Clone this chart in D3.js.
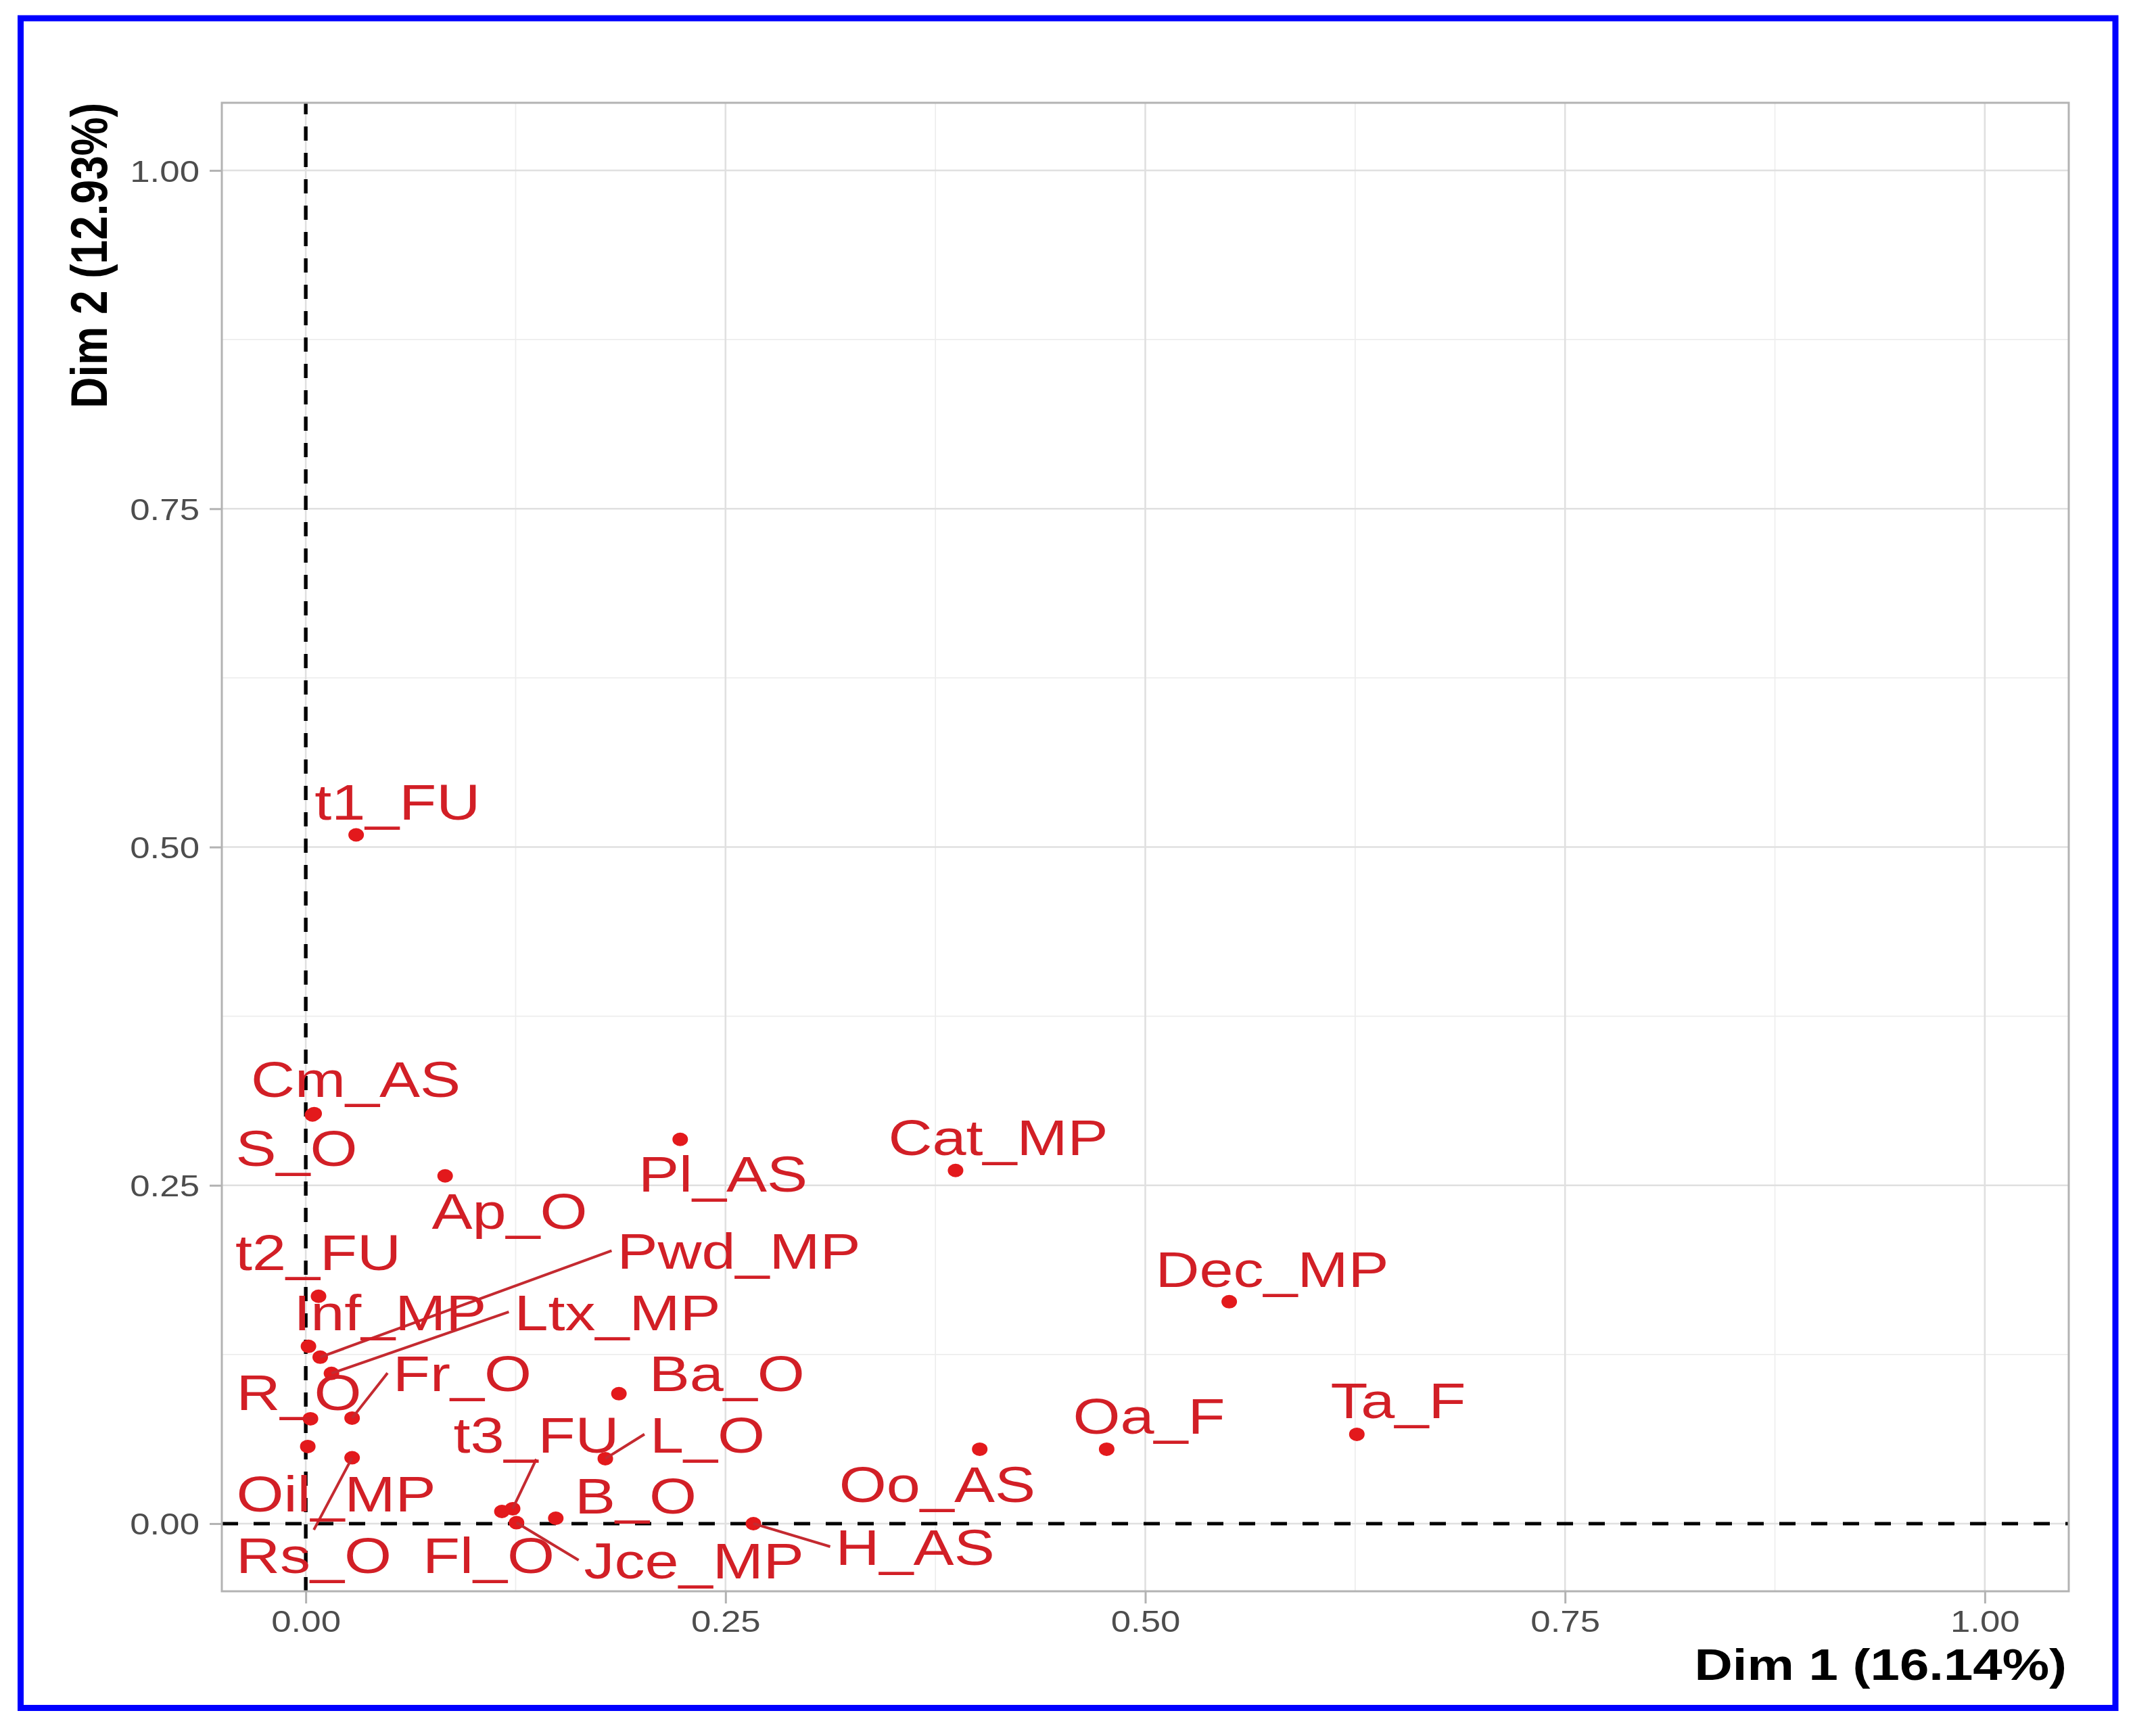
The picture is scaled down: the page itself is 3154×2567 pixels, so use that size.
<!DOCTYPE html>
<html>
<head>
<meta charset="utf-8">
<script src="https://cdn.jsdelivr.net/npm/d3@7"></script>
<style>
html, body { margin: 0; padding: 0; background: #ffffff; }
svg { display: block; }
</style>
</head>
<body>
<script>
// ---------------- data ----------------
const names = ["t1_FU","Cm_AS","S_O","Pl_AS","Cat_MP","Ap_O","t2_FU","Pwd_MP","Dec_MP","Inf_MP",
               "Ltx_MP","Fr_O","Ba_O","R_O","Ta_F","Oa_F","t3_FU","L_O","Oo_AS","Oil_MP",
               "B_O","H_AS","Rs_O","Fl_O","Jce_MP"];
const dim1 = [0.030, 0.005, 0.004, 0.223, 0.387, 0.083, 0.0076, 0.0086, 0.550, 0.0016,
              0.0153, 0.0276, 0.1865, 0.0028, 0.626, 0.477, 0.1232, 0.1784, 0.4014, 0.0012,
              0.1489, 0.2666, 0.0276, 0.1168, 0.1255];
const dim2 = [0.509, 0.303, 0.302, 0.284, 0.261, 0.257, 0.168, 0.123, 0.164, 0.131,
              0.111, 0.078, 0.096, 0.0775, 0.066, 0.055, 0.011, 0.048, 0.055, 0.057,
              0.004, 0.000, 0.0487, 0.009, 0.0007];
// repelled label positions (data units, centre of label)
const labelDim1 = [0.0546, 0.0298, -0.0055, 0.2485, 0.4124, 0.1214, 0.0074, 0.2579, 0.5755, 0.0502,
                   0.1856, 0.0932, 0.2508, -0.0041, 0.6506, 0.5022, 0.1373, 0.2392, 0.3761, 0.0181,
                   0.1965, 0.3629, 0.0048, 0.1089, 0.2312];
const labelDim2 = [0.5336, 0.3287, 0.2777, 0.2586, 0.2858, 0.2311, 0.2009, 0.2017, 0.1882, 0.1565,
                   0.1565, 0.1113, 0.1114, 0.0976, 0.0913, 0.0799, 0.0661, 0.0661, 0.0295, 0.0222,
                   0.0208, -0.0170, -0.0230, -0.0230, -0.0270];
const segmentLabels = ["Pwd_MP","Ltx_MP","Fr_O","t3_FU","L_O","Rs_O","Jce_MP","H_AS"];
const xTicks = [0, 0.25, 0.5, 0.75, 1];
const yTicks = [0, 0.25, 0.5, 0.75, 1];
const minorTicks = [0.125, 0.375, 0.625, 0.875];
const xTitle = "Dim 1 (16.14%)";
const yTitle = "Dim 2 (12.93%)";

// ---------------- layout ----------------
const W = 3154, H = 2567;
const P = { left: 328, right: 3059, top: 152, bottom: 2353 };
const SX = 1.2;                 // horizontal stretch of the original picture
const FONT = "'Liberation Sans', Arial, Helvetica, sans-serif";
const LABEL_SIZE = 75;
const CAP_HALF = 0.358 * LABEL_SIZE;
const TEXT_RED = "#D21F26", POINT_RED = "#E3191C", SEG_RED = "#C42A30";

const svg = d3.select("body").append("svg")
  .attr("width", W).attr("height", H)
  .attr("viewBox", `0 0 ${W} ${H}`);

svg.append("rect").attr("x", 0).attr("y", 0).attr("width", W).attr("height", H).attr("fill", "#ffffff");

const x = d3.scaleLinear().domain([-0.05, 1.05]).range([P.left, P.right]);
const y = d3.scaleLinear().domain([-0.05, 1.05]).range([P.bottom, P.top]);

// grid
const grid = svg.append("g");
grid.selectAll(".vminor").data(minorTicks).join("line")
  .attr("x1", d => x(d)).attr("x2", d => x(d)).attr("y1", P.top).attr("y2", P.bottom)
  .attr("stroke", "#EDEDED").attr("stroke-width", 1.6);
grid.selectAll(".hminor").data(minorTicks).join("line")
  .attr("y1", d => y(d)).attr("y2", d => y(d)).attr("x1", P.left).attr("x2", P.right)
  .attr("stroke", "#EDEDED").attr("stroke-width", 1.6);
grid.selectAll(".vmajor").data(xTicks).join("line")
  .attr("x1", d => x(d)).attr("x2", d => x(d)).attr("y1", P.top).attr("y2", P.bottom)
  .attr("stroke", "#E0E0E0").attr("stroke-width", 2.6);
grid.selectAll(".hmajor").data(yTicks).join("line")
  .attr("y1", d => y(d)).attr("y2", d => y(d)).attr("x1", P.left).attr("x2", P.right)
  .attr("stroke", "#E0E0E0").attr("stroke-width", 2.6);

// reference dashed lines
svg.append("line")
  .attr("x1", x(0)).attr("x2", x(0)).attr("y1", P.bottom).attr("y2", P.top)
  .attr("stroke", "#000").attr("stroke-width", 5.4).attr("stroke-dasharray", "21,18");
svg.append("line")
  .attr("x1", P.left).attr("x2", P.right).attr("y1", y(0)).attr("y2", y(0))
  .attr("stroke", "#000").attr("stroke-width", 5).attr("stroke-dasharray", "24,23");

// axes
const yAxis = svg.append("g").attr("transform", `translate(${P.left},0)`)
  .call(d3.axisLeft(y).tickValues(yTicks).tickFormat(d3.format(".2f")).tickSize(18).tickPadding(15));
const xAxis = svg.append("g").attr("transform", `translate(0,${P.bottom})`)
  .call(d3.axisBottom(x).tickValues(xTicks).tickFormat(d3.format(".2f")).tickSize(18).tickPadding(15));
[yAxis, xAxis].forEach(g => {
  g.select(".domain").remove();
  g.selectAll(".tick line").attr("stroke", "#B3B3B3").attr("stroke-width", 3);
  g.selectAll(".tick text").attr("fill", "#4D4D4D").attr("font-family", FONT).attr("font-size", 44);
});
yAxis.selectAll(".tick text").attr("x", 0).attr("dy", null)
  .attr("transform", "translate(-33,16) scale(" + SX + ",1)");
xAxis.selectAll(".tick text").attr("y", 0).attr("dy", null)
  .attr("transform", "translate(0,60) scale(" + SX + ",1)");

// data table
const rows = names.map((n, i) => ({ name: n, d1: dim1[i], d2: dim2[i], l1: labelDim1[i], l2: labelDim2[i] }));

// labels (measure first)
const labelG = svg.append("g");
const labels = labelG.selectAll("g").data(rows).join("g")
  .attr("transform", d => `translate(${x(d.l1)},${y(d.l2)})`);
labels.append("text")
  .attr("text-anchor", "middle")
  .attr("dy", CAP_HALF)
  .attr("transform", `scale(${SX},1)`)
  .attr("font-family", FONT).attr("font-size", LABEL_SIZE)
  .attr("fill", TEXT_RED)
  .text(d => d.name);
labels.each(function (d) { d.tw = d3.select(this).select("text").node().getComputedTextLength() * SX; });

// segments (ggrepel style: point -> nearest edge midpoint of padded label box)
const segG = svg.insert("g", () => labelG.node());
const segRows = rows.filter(d => segmentLabels.includes(d.name));
segRows.forEach(d => {
  const px = x(d.d1), py = y(d.d2), cx = x(d.l1), cy = y(d.l2);
  const hw = d.tw / 2 + 8, hh = CAP_HALF + 10;
  const cands = [[cx - hw, cy], [cx + hw, cy], [cx, cy - hh], [cx, cy + hh]];
  let best = cands[0], bd = Infinity;
  cands.forEach(c => { const dd = Math.hypot(c[0] - px, c[1] - py); if (dd < bd) { bd = dd; best = c; } });
  d.ex = best[0]; d.ey = best[1];
});
segG.selectAll("line").data(segRows).join("line")
  .attr("x1", d => x(d.d1)).attr("y1", d => y(d.d2))
  .attr("x2", d => d.ex).attr("y2", d => d.ey)
  .attr("stroke", SEG_RED).attr("stroke-width", 4);

// points
const ptG = svg.insert("g", () => segG.node());
ptG.selectAll("ellipse").data(rows).join("ellipse")
  .attr("cx", d => x(d.d1)).attr("cy", d => y(d.d2))
  .attr("rx", 11.5).attr("ry", 10)
  .attr("fill", POINT_RED);

// panel border
svg.append("rect")
  .attr("x", P.left).attr("y", P.top)
  .attr("width", P.right - P.left).attr("height", P.bottom - P.top)
  .attr("fill", "none").attr("stroke", "#B3B3B3").attr("stroke-width", 3);

// axis titles
svg.append("text")
  .attr("text-anchor", "end")
  .attr("transform", `translate(3056,2484) scale(${SX},1)`)
  .attr("font-family", FONT).attr("font-size", 65).attr("font-weight", "bold")
  .attr("fill", "#000").text(xTitle);
svg.append("text")
  .attr("text-anchor", "end")
  .attr("transform", `translate(158,152) scale(${SX},1) rotate(-90)`)
  .attr("font-family", FONT).attr("font-size", 64).attr("font-weight", "bold")
  .attr("fill", "#000").text(yTitle);

// outer blue frame
svg.append("rect")
  .attr("x", 30.5).attr("y", 27).attr("width", 3097.5).attr("height", 2498.5)
  .attr("fill", "none").attr("stroke", "#0000FF").attr("stroke-width", 9);
</script>
</body>
</html>
